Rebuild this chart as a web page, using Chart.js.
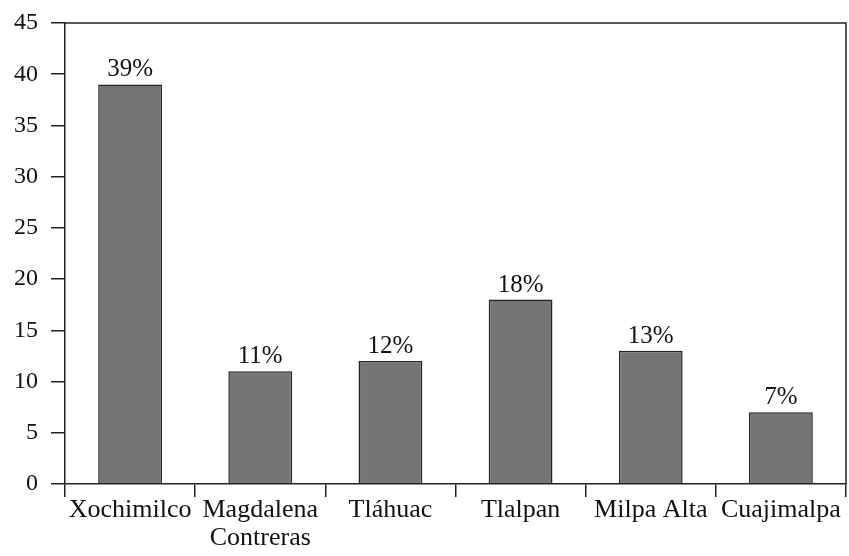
<!DOCTYPE html>
<html>
<head>
<meta charset="utf-8">
<script src="https://cdn.jsdelivr.net/npm/chart.js"></script>
<title>Delegaciones</title>
<style>
  body { margin: 0; background: #fff; }
  #wrap { width: 849px; height: 556px; }
</style>
</head>
<body>
<div id="wrap"><canvas id="chart1"></canvas></div>
<script>
// categorias y porcentajes
var delegaciones = ['Xochimilco', ['Magdalena', 'Contreras'], 'Tláhuac', 'Tlalpan', 'Milpa Alta', 'Cuajimalpa'];
var porcentajes = [39, 11, 12, 18, 13, 7];
var yMax = 45;
var yPaso = 5;

var fuente = "'Liberation Serif', 'Times New Roman', serif";

// marco superior y derecho + etiquetas de porcentaje
var extras = {
  id: 'extras',
  afterDatasetsDraw: function(chart) {
    var ctx = chart.ctx;
    var a = chart.chartArea;
    ctx.save();
    ctx.strokeStyle = '#222';
    ctx.lineWidth = 1.5;
    ctx.beginPath();
    ctx.moveTo(a.left, a.top);
    ctx.lineTo(a.right, a.top);
    ctx.lineTo(a.right, a.bottom);
    ctx.stroke();

    ctx.fillStyle = '#111';
    ctx.font = '25px ' + fuente;
    ctx.textAlign = 'center';
    ctx.textBaseline = 'alphabetic';
    chart.getDatasetMeta(0).data.forEach(function(bar, i) {
      ctx.fillText(porcentajes[i] + '%', bar.x, bar.y - 8);
    });
    ctx.restore();
  }
};

var ctx = document.getElementById('chart1').getContext('2d');
var chart1 = new Chart(ctx, {
  type: 'bar',
  data: {
    labels: delegaciones,
    datasets: [{
      data: porcentajes,
      backgroundColor: '#757575',
      borderColor: '#222',
      borderWidth: 1.5,
      barPercentage: 0.49,
      categoryPercentage: 1
    }]
  },
  options: {
    responsive: true,
    maintainAspectRatio: false,
    animation: false,
    layout: { padding: { top: 23, right: 3, left: 0, bottom: 0 } },
    plugins: { legend: { display: false }, tooltip: { enabled: false } },
    scales: {
      x: {
        grid: { offset: true, drawOnChartArea: false, tickLength: 13, color: '#222', lineWidth: 1.5 },
        border: { color: '#222', width: 1.5 },
        ticks: { color: '#111', font: { family: fuente, size: 26, lineHeight: 1.05 }, padding: 0, maxRotation: 0, autoSkip: false },
        afterFit: function(s) { s.height = 72; }
      },
      y: {
        min: 0, max: yMax,
        grid: { drawOnChartArea: false, tickLength: 14, color: '#222', lineWidth: 1.5 },
        border: { color: '#222', width: 1.5 },
        ticks: { stepSize: yPaso, color: '#111', font: { family: fuente, size: 24 }, padding: 13 },
        afterFit: function(s) {
          s.width = 65;
          s.paddingTop = 0;
          s.paddingBottom = 0;
        }
      }
    }
  },
  plugins: [extras]
});
</script>
</body>
</html>
